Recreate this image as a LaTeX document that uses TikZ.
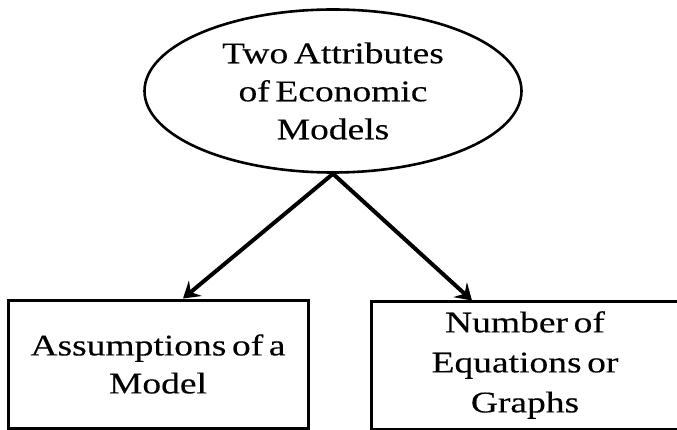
\documentclass[tikz,border=0pt]{standalone}
\usepackage{fontspec}
\setmainfont{Liberation Serif}[FakeStretch=1.25,WordSpace=0.6,FakeBold=0.3]
\usetikzlibrary{shapes.geometric,arrows.meta,calc}
\begin{document}
\begin{tikzpicture}[x=1pt,y=-1pt,
  txt/.style={font=\fontsize{30}{38}\selectfont, align=center, text=black},
  ell/.style={ellipse, draw=black, line width=2.6pt, inner sep=0pt, txt},
  box/.style={rectangle, draw=black, line width=3pt, inner sep=0pt, txt},
  arr/.style={line width=4pt, -{Stealth[length=16pt,width=20pt,inset=6pt]}}]
\useasboundingbox (0,0) rectangle (677,430);
\node[ell, minimum width=377pt, minimum height=163pt] (E) at (333,91) {Two Attributes\\of Economic\\Models};
\node[box, minimum width=300pt, minimum height=128pt] (L) at (158,364) {Assumptions of a\\Model};
\node[box, minimum width=308pt, minimum height=128pt, font=\fontsize{30}{40}\selectfont] (R) at (525,365) {Number of\\Equations or\\Graphs};
\draw[arr] (E.south) -- ([xshift=25pt]L.north);
\draw[arr] (E.south) -- ([xshift=-53pt,yshift=-1pt]R.north);
\end{tikzpicture}
\end{document}
